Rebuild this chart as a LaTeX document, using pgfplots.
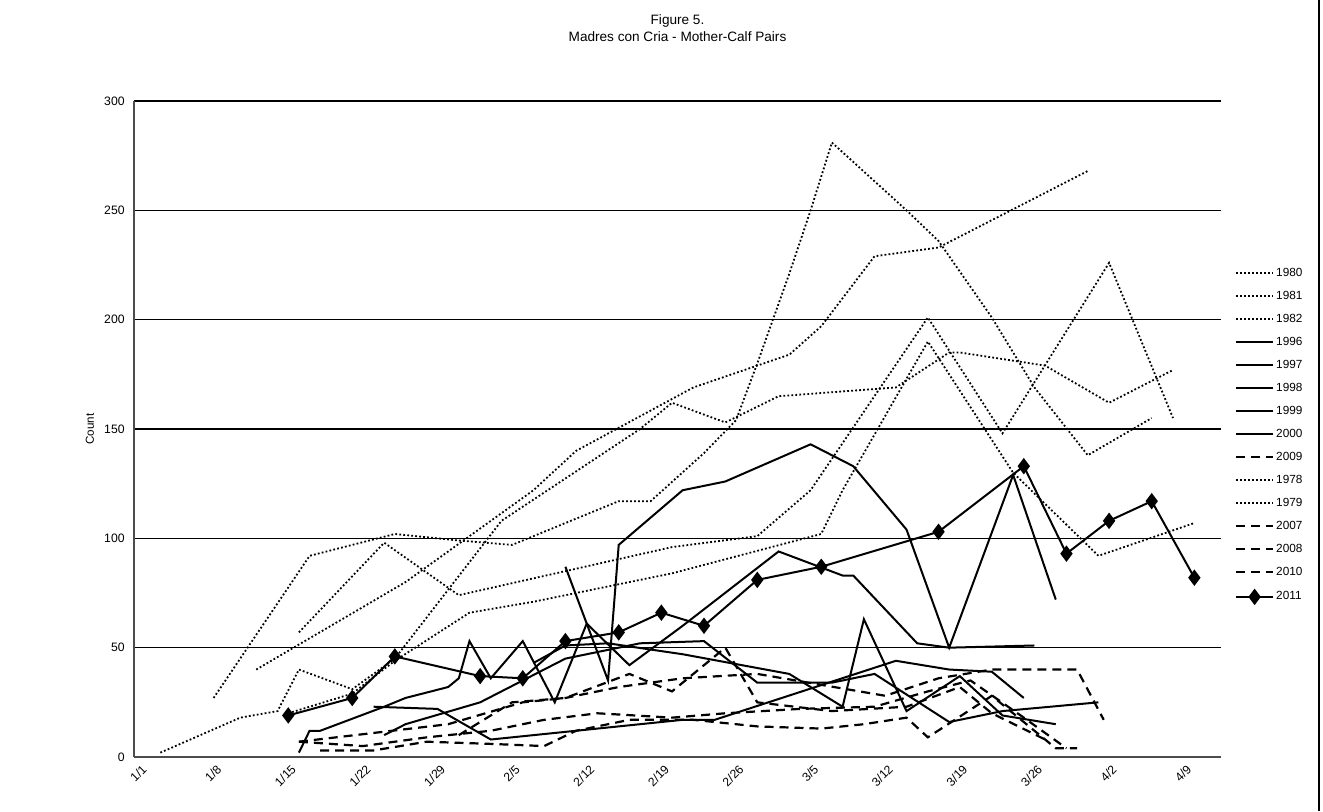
\documentclass[border=0pt]{standalone}
\usepackage{pgfplots}
\pgfplotsset{compat=1.18}
\usepackage{fontspec}
\setmainfont{Liberation Sans}
\tikzset{
  dotl/.style={black, line width=0.9pt, dash pattern=on 0.9pt off 1.1pt, line cap=butt},
  soll/.style={black, line width=1pt, solid, line join=miter},
  dshl/.style={black, line width=1.1pt, dash pattern=on 4.5pt off 3pt},
}
\begin{document}
\begin{tikzpicture}
\useasboundingbox (-67pt,-27pt) rectangle (594.5pt,378.5pt);
\begin{axis}[
  at={(0pt,0pt)}, anchor=south west,
  scale only axis, width=543.5pt, height=328pt,
  xmin=-0.47, xmax=101.5, ymin=0, ymax=300,
  xtick={0,7,...,98},
  xticklabels={1/1,1/8,1/15,1/22,1/29,2/5,2/12,2/19,2/26,3/5,3/12,3/19,3/26,4/2,4/9},
  ytick={0,50,...,300},
  major tick length=0pt,
  ymajorgrids,
  major grid style={black, line width=0.7pt},
  axis x line*=bottom, axis y line*=left,
  axis line style={-, draw=black!70, line width=0.8pt},
  /pgf/number format/assume math mode=true,
  tick label style={font=\fontsize{6.1}{7}\selectfont},
  yticklabel style={anchor=east, inner sep=0pt, xshift=-4.5pt},
  xticklabel style={rotate=45, anchor=east, inner sep=0pt, xshift=-1.5pt, yshift=-5.5pt},
  legend style={at={(1.0129,0.745)}, anchor=north west, draw=none, fill=none,
    font=\fontsize{5.9}{6.5}\selectfont, inner sep=0pt, outer sep=0pt,
    row sep=6.5pt, column sep=1pt,
    nodes={inner sep=0pt, text height=4pt, text depth=1pt}},
  legend cell align=left,
  legend image code/.code={\draw[mark repeat=2,mark phase=2,#1] plot coordinates {(0pt,0pt) (9.25pt,0pt) (18.5pt,0pt)};},
  clip=false,
]
% 1980
\addplot[dotl] coordinates {(7,27)(16,92)(24,102)(30,99)(35,97)(45,117)(48,117)(53,139)(56,154)(58,180)(61,221)(63,250)(65,281)(72,250)(75,236)(80,201)(84,169)(89,138)(95,155)};
% 1981
\addplot[dotl] coordinates {(11,40)(25,80)(37,122)(41,140)(52,169)(61,184)(64,197)(69,229)(75,233)(89,268)};
% 1982
\addplot[dotl] coordinates {(15,57)(23,98)(30,74)(50,96)(58,101)(63,122)(74,201)(81,148)(91,226)(97,155)};
% 1996
\addplot[soll] coordinates {(15,2)(16,12)(17,12)(23,23)(25,27)(29,32)(30,36)(31,53)(33,36)(36,53)(39,25)(42,61)(46,42)(51,60)(60,94)(66,83)(67,83)(73,52)(76,50)(84,51)};
% 1997
\addplot[soll] coordinates {(40,87)(42,61)(44,35)(45,97)(51,122)(53,124)(55,126)(63,143)(67,133)(72,104)(76,50)(82,129)(86,72)};
% 1998
\addplot[soll] coordinates {(22,23)(28,22)(33,8)(51,17)(54,17)(71,44)(76,40)(80,39)(83,27)};
% 1999
\addplot[soll] coordinates {(37,43)(40,51)(44,52)(51,47)(61,38)(66,23)(68,63)(72,21)(77,37)(81,19)(86,15)};
% 2000
\addplot[soll] coordinates {(23,10)(25,15)(32,25)(40,45)(47,52)(53,53)(58,34)(65,34)(69,38)(76,16)(81,21)(90,25)};
% 2009
\addplot[dshl] coordinates {(15,7)(22,11)(29,15)(36,25)(40,27)(45,32)(51,36)(58,38)(64,33)(70,28)(75,36)(80,40)(88,40)(90.5,17)};
% 1978
\addplot[dotl] coordinates {(14,20)(20,29)(24,44)(31,66)(37,71)(50,84)(64,102)(66,122)(74,190)(82,130)(90,92)(99,107)};
% 1979
\addplot[dotl] coordinates {(2,2)(9.5,18)(13,21)(15,40)(20,31)(24,45)(34,108)(47,150)(50,162)(55,153)(60,165)(71,169)(76,185)(77,185)(85,179)(91,162)(97,177)};
% 2007
\addplot[dshl] coordinates {(15,7)(21,5)(27,9)(33,12)(38,17)(43,20)(50,18)(55,20)(62,22)(69,23)(74,30)(78,35)(83,18)(87,4)};
% 2008
\addplot[dshl] coordinates {(17,3)(22,3)(27,7)(33,6)(38,5)(41,12)(46,17)(52,17)(58,14)(64,13)(68,15)(72,18)(74,9)(80,28)(84,12)(86,4)(88,4)};
% 2010
\addplot[dshl] coordinates {(30,10)(35,25)(40,27)(46,38)(50,30)(55,50)(58,25)(65,21)(72,23)(77,32)(80,20)(85,8)};
% 2011
\addplot[soll, mark=diamond*, mark size=3.3pt, mark options={solid, fill=black}] coordinates {(14,19)(20,27)(24,46)(32,37)(36,36)(40,53)(45,57)(49,66)(53,60)(58,81)(64,87)(75,103)(83,133)(87,93)(91,108)(95,117)(99,82)};
\legend{1980,1981,1982,1996,1997,1998,1999,2000,2009,1978,1979,2007,2008,2010,2011}
\node[font=\fontsize{6.8}{7.5}\selectfont, anchor=center] at (axis description cs:0.5,1) [yshift=40pt] {Figure 5.};
\node[font=\fontsize{6.8}{7.5}\selectfont, anchor=center] at (axis description cs:0.5,1) [yshift=32pt] {Madres con Cria - Mother-Calf Pairs};
\node[font=\fontsize{5.8}{6.5}\selectfont, rotate=90, anchor=center] at (axis description cs:-0.0405,0.5) {Count};
\end{axis}
\draw[black, line width=1pt] (592.5pt,-27pt) -- (592.5pt,378.5pt);
\end{tikzpicture}
\end{document}
